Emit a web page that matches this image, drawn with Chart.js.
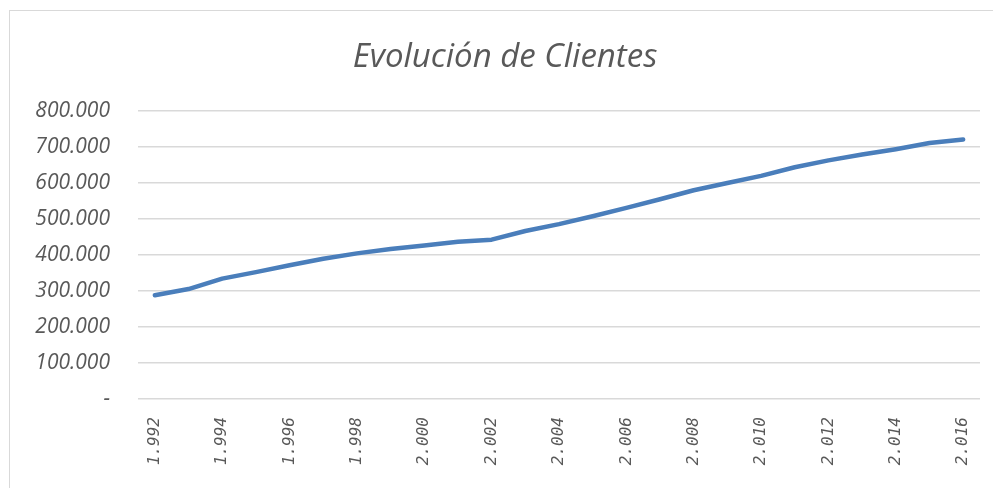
<!DOCTYPE html>
<html>
<head>
<meta charset="utf-8">
<script src="https://cdn.jsdelivr.net/npm/chart.js@4.4.1/dist/chart.umd.min.js"></script>
<style>
  html, body { margin: 0; padding: 0; background: #fff; }
  #wrap { position: absolute; left: 0; top: 0; width: 993px; height: 488px; }
  #frame { position: absolute; left: 9px; top: 10px; width: 990px; height: 480px;
           border-left: 1px solid #d9d9d9; border-top: 1px solid #d9d9d9; }
</style>
</head>
<body>
<div id="wrap">
  <div id="frame"></div>
  <canvas id="chart" width="993" height="488"></canvas>
</div>
<script>
const years = ['1.992', '1.993', '1.994', '1.995', '1.996', '1.997', '1.998', '1.999', '2.000',
    '2.001', '2.002', '2.003', '2.004', '2.005', '2.006', '2.007', '2.008', '2.009', '2.010',
    '2.011', '2.012', '2.013', '2.014', '2.015', '2.016'];
const clientes = [288000, 305000, 334000, 352000, 371000, 389000, 404000, 416000, 426000,
    436000, 442000, 466000, 485000, 507000, 530000, 554000, 579000, 599000, 619000,
    643000, 662000, 678000, 693000, 710000, 720000];
const yTicks = [0, 100000, 200000, 300000, 400000, 500000, 600000, 700000, 800000];

const grey = '#595959';

function fmt(v) {
    if (v === 0) return '-';
    return v.toLocaleString('de-DE');
}

const ctx = document.getElementById('chart').getContext('2d');
new Chart(ctx, {
    type: 'line',
    data: {
        labels: years,
        datasets: [{
            label: 'Clientes',
            data: clientes,
            borderColor: '#4a7ebb',
            borderWidth: 4.5,
            borderCapStyle: 'round',
            borderJoinStyle: 'round',
            pointRadius: 0,
            tension: 0,
            fill: false
        }]
    },
    options: {
        responsive: false,
        animation: false,
        layout: { padding: { left: 30, right: 13, top: 0, bottom: 0 } },
        plugins: {
            legend: { display: false },
            tooltip: { enabled: false },
            title: {
                display: true,
                text: 'Evolución de Clientes',
                color: grey,
                font: { family: 'Open Sans', style: 'italic', size: 33, weight: 'normal' },
                padding: { top: 38, bottom: 33 }
            }
        },
        scales: {
            x: {
                offset: true,
                grid: { display: false },
                border: { display: false },
                afterFit: (scale) => { scale.height = 89; },
                ticks: {
                    autoSkip: false,
                    minRotation: 90,
                    maxRotation: 90,
                    padding: 10,
                    color: grey,
                    font: { family: 'DejaVu Sans Mono', style: 'italic', size: 16 },
                    callback: function (val, i) { return i % 2 === 0 ? this.getLabelForValue(val) : ''; }
                }
            },
            y: {
                min: 0,
                max: 800000,
                afterBuildTicks: (scale) => { scale.ticks = yTicks.map(v => ({ value: v })); },
                afterFit: (scale) => { scale.width = 108; },
                grid: { color: '#d9d9d9', lineWidth: 1.5, drawTicks: false },
                border: { display: false },
                ticks: {
                    padding: 28,
                    color: grey,
                    font: { family: 'Open Sans', style: 'italic', size: 21 },
                    callback: (v) => fmt(v)
                }
            }
        }
    }
});
</script>
</body>
</html>
